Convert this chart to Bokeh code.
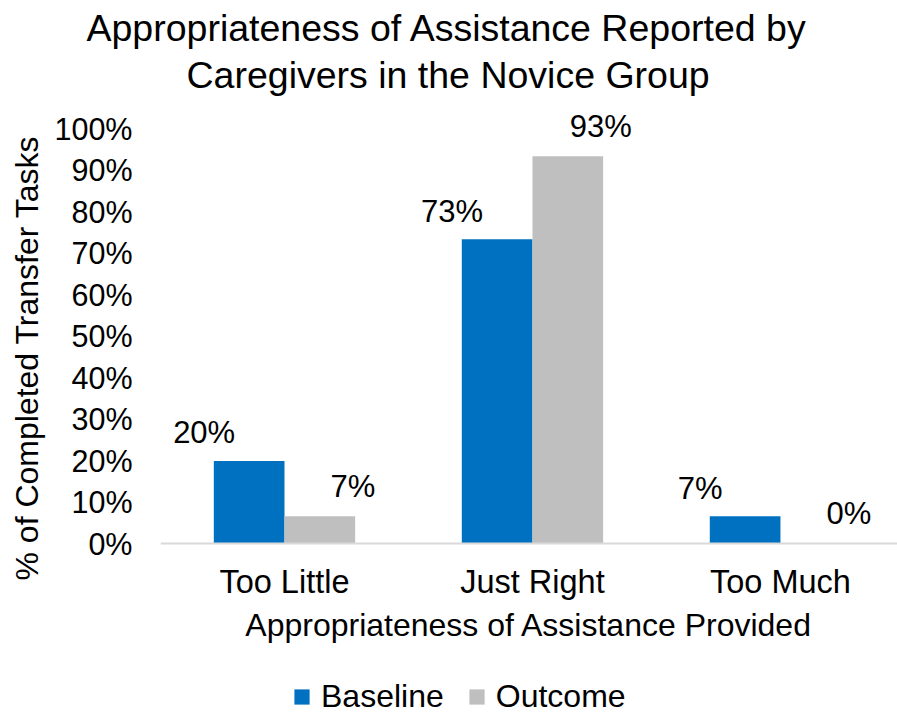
from bokeh.plotting import figure
from bokeh.models import (Range1d, FixedTicker, NumeralTickFormatter, Title,
                          Legend, LegendItem, ColumnDataSource)
from bokeh.core.properties import value
from bokeh.embed import file_html
from bokeh.resources import INLINE

# ---- data ----
categories = ["Too Little", "Just Right", "Too Much"]
series_names = ["Baseline", "Outcome"]
baseline = [0.20, 0.7333, 0.0667]
outcome = [0.0667, 0.9333, 0.0]
baseline_labels = ["20%", "73%", "7%"]
outcome_labels = ["7%", "93%", "0%"]
y_ticks = [0.0, 0.1, 0.2, 0.3, 0.4, 0.5, 0.6, 0.7, 0.8, 0.9, 1.0]
title_lines = ["Appropriateness of Assistance Reported by",
               "Caregivers in the Novice Group"]
x_title = "Appropriateness of Assistance Provided"
y_title = "% of Completed Transfer Tasks"

FONT = "Liberation Sans"
BLUE = "#0070C0"
GRAY = "#BFBFBF"
TXT = "#000000"

cat_pos = [i + 0.5 for i in range(len(categories))]
BAR_W = 0.285
DODGE = 0.1425

# frame spans down to the bottom of the page; the category axis is pinned at 0
p = figure(width=897, height=715, output_backend="svg", toolbar_location=None,
           x_range=Range1d(0, 2.972), y_range=Range1d(-0.4128, 1.0578),
           min_border_left=160, min_border_right=0, min_border_top=104,
           min_border_bottom=0)
p.outline_line_color = None
p.xgrid.visible = False
p.ygrid.visible = False
p.background_fill_color = "white"
p.border_fill_color = "white"

src_b = ColumnDataSource(dict(x=[c - DODGE for c in cat_pos], top=baseline, lab=baseline_labels))
src_o = ColumnDataSource(dict(x=[c + DODGE for c in cat_pos], top=outcome, lab=outcome_labels))

rb = p.vbar(x="x", top="top", width=BAR_W, bottom=0, source=src_b,
            fill_color=BLUE, line_color=None)
ro = p.vbar(x="x", top="top", width=BAR_W, bottom=0, source=src_o,
            fill_color=GRAY, line_color=None)

p.text(x="x", y="top", text="lab", source=src_b, text_align="center",
       text_baseline="middle", x_offset=-45, y_offset=-28,
       text_font_size="31px", text_font=value(FONT), text_color=TXT)
p.text(x="x", y="top", text="lab", source=src_o, text_align="center",
       text_baseline="middle", x_offset=33, y_offset=-30,
       text_font_size="31px", text_font=value(FONT), text_color=TXT)

# x axis
xa = p.xaxis[0]
xa.fixed_location = 0
xa.ticker = FixedTicker(ticks=cat_pos)
xa.major_label_overrides = {c: n for c, n in zip(cat_pos, categories)}
xa.axis_line_color = "#D9D9D9"
xa.axis_line_width = 2
xa.major_tick_line_color = None
xa.minor_tick_line_color = None
xa.major_tick_out = 0
xa.major_tick_in = 0
xa.major_label_standoff = 20
xa.major_label_text_font = FONT
xa.major_label_text_font_size = "32.5px"
xa.major_label_text_color = TXT
xa.axis_label = x_title
xa.axis_label_standoff = 4
xa.axis_label_text_font = FONT
xa.axis_label_text_font_size = "32px"
xa.axis_label_text_font_style = "normal"
xa.axis_label_text_color = TXT

# y axis
ya = p.yaxis[0]
ya.ticker = FixedTicker(ticks=y_ticks)
ya.formatter = NumeralTickFormatter(format="0%")
ya.axis_line_color = None
ya.major_tick_line_color = None
ya.minor_tick_line_color = None
ya.major_tick_out = 0
ya.major_tick_in = 0
ya.major_label_standoff = 28
ya.major_label_text_font = FONT
ya.major_label_text_font_size = "30.5px"
ya.major_label_text_color = TXT

p.add_layout(Title(text=y_title, align="left", offset=135, standoff=13,
                   text_font=FONT, text_font_size="32px",
                   text_font_style="normal", text_color=TXT), "left")

# titles (second line added first so it sits closest to the plot)
p.add_layout(Title(text=title_lines[1], align="left", offset=26, standoff=17,
                   text_font=FONT, text_font_size="37.5px",
                   text_font_style="normal", text_color=TXT), "above")
p.add_layout(Title(text=title_lines[0], align="left", offset=-74, standoff=-10,
                   text_font=FONT, text_font_size="37.5px",
                   text_font_style="normal", text_color=TXT), "above")

legend = Legend(items=[LegendItem(label=series_names[0], renderers=[rb]),
                       LegendItem(label=series_names[1], renderers=[ro])],
                orientation="horizontal", location=(132, 0),
                glyph_width=19, glyph_height=19, label_standoff=10, spacing=23,
                padding=0, margin=0, border_line_color=None,
                background_fill_alpha=0,
                label_text_font=FONT, label_text_font_size="32px",
                label_text_color=TXT)
p.add_layout(legend, "center")

open("out.html", "w").write(file_html(p, INLINE))
